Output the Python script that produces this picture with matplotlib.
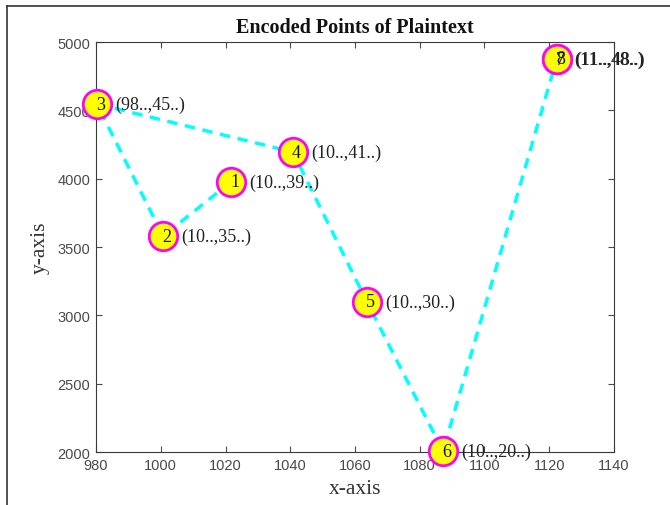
import matplotlib
matplotlib.use("Agg")
import matplotlib.pyplot as plt
from matplotlib.lines import Line2D

# Data
point_ids = ["1", "2", "3", "4", "5", "6", "7", "8"]
x_vals = [1021.7, 1000.7, 980.3, 1040.8, 1063.7, 1087.2, 1122.3, 1122.4]
y_vals = [3976, 3580, 4546, 4195, 3098, 2007, 4874, 4876]
coord_labels = ["(10..,39..)", "(10..,35..)", "(98..,45..)", "(10..,41..)",
                "(10..,30..)", "(10..,20..)", "(11..,48..)", "(11..,48..)"]
x_ticks = [980, 1000, 1020, 1040, 1060, 1080, 1100, 1120, 1140]
y_ticks = [2000, 2500, 3000, 3500, 4000, 4500, 5000]

serif = ["Liberation Serif", "DejaVu Serif"]
sans = ["Liberation Sans", "DejaVu Sans"]

fig = plt.figure(figsize=(6.7, 5.06), dpi=100)
ax = fig.add_axes([0.1433, 0.1047, 0.7731, 0.8103])

ax.plot(x_vals, y_vals, color="#00FFFF", linestyle=(0, (3, 2.2)), linewidth=2.5,
        zorder=2, clip_on=False)
ax.plot(x_vals, y_vals, linestyle="none", marker="o", markersize=20.5,
        markerfacecolor="#FFFF00", markeredgecolor="#FF00FF", markeredgewidth=2.0,
        zorder=3, clip_on=False)

for pid, xv, yv, lab in zip(point_ids, x_vals, y_vals, coord_labels):
    ax.annotate(pid, (xv, yv), xytext=(2.5, 0), textcoords="offset points",
                ha="center", va="center", fontsize=13, family=serif,
                color="#111111", zorder=4, annotation_clip=False)
    ax.annotate(lab, (xv, yv), xytext=(13, 0), textcoords="offset points",
                ha="left", va="center", fontsize=13, family=serif,
                color="#222222", zorder=4, annotation_clip=False)

ax.set_xlim(980, 1140)
ax.set_ylim(2000, 5000)
ax.set_xticks(x_ticks)
ax.set_yticks(y_ticks)
ax.tick_params(direction="in", top=True, right=True, length=4, width=0.8,
               labelsize=10.5, colors="#4a4a4a", pad=4)
for lbl in ax.get_xticklabels() + ax.get_yticklabels():
    lbl.set_family(sans)
for sp in ax.spines.values():
    sp.set_color("#3a3a3a")
    sp.set_linewidth(0.8)

ax.set_title("Encoded Points of Plaintext", fontsize=14.5, fontweight="bold",
             family=serif, pad=7, color="#111111")
ax.set_xlabel("x-axis", fontsize=15.5, family=serif, labelpad=5, color="#333333")
ax.set_ylabel("y-axis", fontsize=15.5, family=serif, labelpad=6, color="#333333")

# screenshot frame
fig.add_artist(Line2D([7/670, 1.0], [1 - 7/506, 1 - 7/506], transform=fig.transFigure,
                      color="#333333", linewidth=1.2))
fig.add_artist(Line2D([7/670, 7/670], [0.0, 1 - 7/506], transform=fig.transFigure,
                      color="#333333", linewidth=1.2))

fig.savefig("out.png", dpi=100)
